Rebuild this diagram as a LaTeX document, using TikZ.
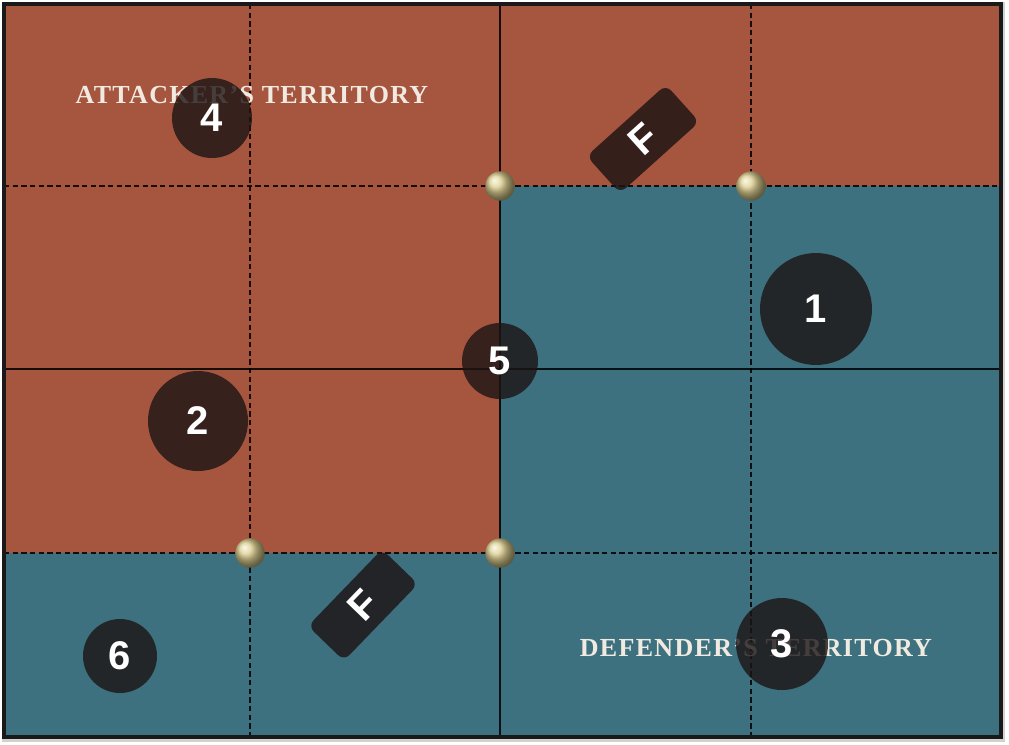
\documentclass[tikz,border=0pt]{standalone}
\usepackage{fontspec}
\setmainfont{Liberation Serif}
\newfontfamily\terrfont[LetterSpace=5]{Liberation Serif}
\newfontfamily\numfont{Liberation Sans}
\usetikzlibrary{shadings}
\definecolor{redland}{RGB}{166,85,63}
\definecolor{blueland}{RGB}{62,113,128}
\definecolor{gold}{RGB}{222,208,145}
\definecolor{tokendark}{RGB}{28,20,20}
\definecolor{cream}{RGB}{240,234,224}
\tikzset{
  numc/.style={circle, inner sep=0pt, fill=tokendark, fill opacity=0.8, text opacity=1,
    text=white, font=\numfont\bfseries\fontsize{30}{30}\selectfont},
  ftoken/.style={rectangle, rounded corners=6pt, inner sep=0pt, minimum width=80pt,
    minimum height=37.5pt, fill=tokendark, fill opacity=0.82, text opacity=1,
    text=white, font=\numfont\bfseries\fontsize{30}{30}\selectfont},
  terr/.style={text=cream, font=\terrfont\bfseries\fontsize{19.5}{20}\selectfont, inner sep=0pt},
  solidline/.style={line width=1.8pt, draw=black, draw opacity=0.85},
  dashline/.style={line width=1.9pt, draw=black, draw opacity=0.85, dash pattern=on 4pt off 2.5pt},
  goldball/.style={circle, inner sep=0pt, minimum size=22pt, shading=ball, ball color=gold},
}
\begin{document}
\begin{tikzpicture}[x=0.75pt,y=-0.75pt]
\useasboundingbox (0,0) rectangle (1009,744);
\fill[white] (0,0) rectangle (1009,744);
% shadow
\fill[black!18] (2,2) rectangle (1005,742);
% territories
\fill[redland] (4,4) rectangle (1001,186);
\fill[redland] (4,186) rectangle (500,553);
\fill[blueland] (500,186) rectangle (1001,553);
\fill[blueland] (4,553) rectangle (1001,737);
% grid
\draw[dashline] (250,4) -- (250,737);
\draw[dashline] (751,4) -- (751,737);
\draw[dashline] (4,186) -- (1001,186);
\draw[dashline] (4,553) -- (1001,553);
\draw[solidline] (500,4) -- (500,737);
\draw[solidline] (4,369) -- (1001,369);
% border
\draw[line width=2.4pt, black!90] (4,4) rectangle (1001,737);
% territory labels
\node[terr] (att) at (252,95) {ATTACKER’S TERRITORY};
\node[terr] (def) at (756,648) {DEFENDER’S TERRITORY};
% gold pegs
\node[goldball] (g1) at (500,186) {};
\node[goldball] (g2) at (751,186) {};
\node[goldball] (g3) at (250,553) {};
\node[goldball] (g4) at (500,553) {};
% F tokens
\node[ftoken, rotate=42] (f1) at (643,139) {F};
\node[ftoken, rotate=46] (f2) at (363,605) {F};
% numbered markers
\node[numc, minimum size=84pt] (n1) at (816,309) {1};
\node[numc, minimum size=75pt] (n2) at (198,421) {2};
\node[numc, minimum size=69pt] (n3) at (782,644) {3};
\node[numc, minimum size=60pt] (n4) at (212,118) {4};
\node[numc, minimum size=57pt] (n5) at (500,361) {5};
\node[numc, minimum size=55.5pt] (n6) at (120,656) {6};
\end{tikzpicture}
\end{document}
